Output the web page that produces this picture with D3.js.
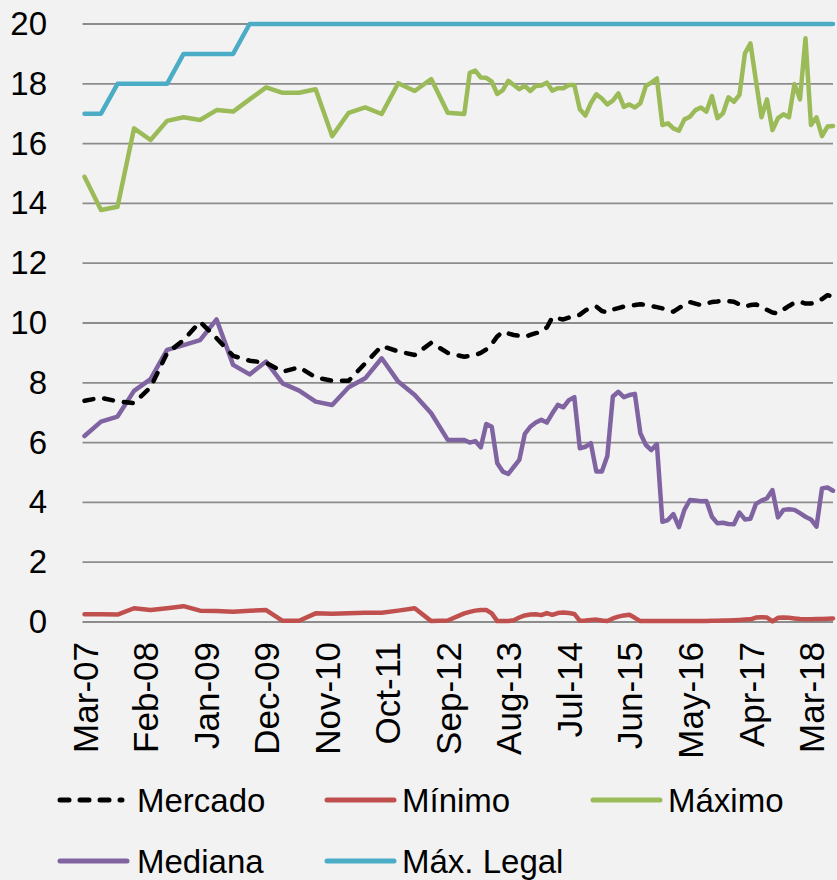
<!DOCTYPE html>
<head>
<meta charset="utf-8">
<style>
  body { margin: 0; background-color: #f2f2f2; }
  svg { background-color: #f2f2f2; font-family: 'Liberation Sans', Arial, sans-serif; }
  .tick-label { font-size: 33px; fill: #000; }
  .x-label { font-size: 35px; fill: #000; }
  .legend-label { font-size: 33px; fill: #000; }
</style>
</head>
<body>
<script src="https://d3js.org/d3.v7.min.js"></script>
<script>

// DATA: quarterly until Dec-12, then monthly
var dates = [
  "2007-03","2007-06","2007-09","2007-12","2008-03","2008-06","2008-09","2008-12",
  "2009-03","2009-06","2009-09","2009-12","2010-03","2010-06","2010-09","2010-12",
  "2011-03","2011-06","2011-09","2011-12","2012-03","2012-06","2012-09","2012-12",
  "2013-01","2013-02","2013-03","2013-04","2013-05","2013-06","2013-07","2013-08","2013-09","2013-10","2013-11","2013-12",
  "2014-01","2014-02","2014-03","2014-04","2014-05","2014-06","2014-07","2014-08","2014-09","2014-10","2014-11","2014-12",
  "2015-01","2015-02","2015-03","2015-04","2015-05","2015-06","2015-07","2015-08","2015-09","2015-10","2015-11","2015-12",
  "2016-01","2016-02","2016-03","2016-04","2016-05","2016-06","2016-07","2016-08","2016-09","2016-10","2016-11","2016-12",
  "2017-01","2017-02","2017-03","2017-04","2017-05","2017-06","2017-07","2017-08","2017-09","2017-10","2017-11","2017-12",
  "2018-01","2018-02","2018-03","2018-04","2018-05","2018-06","2018-07"
];

var mercado = [
  7.40, 7.50, 7.38, 7.32, 7.85, 8.99, 9.43, 10.04, 9.49, 8.90, 8.74, 8.67,
  8.37, 8.52, 8.18, 8.07, 8.07, 8.65, 9.23, 9.05, 8.93, 9.34, 9.00, 8.87,
  8.90, 8.93, 9.00, 9.12, 9.30, 9.55, 9.71, 9.65, 9.60, 9.57, 9.54, 9.60,
  9.66, 9.70, 9.85, 10.19, 10.15, 10.12, 10.18, 10.21, 10.28, 10.42, 10.52, 10.55,
  10.40, 10.35, 10.45, 10.50, 10.55, 10.58, 10.60, 10.63, 10.60, 10.57, 10.53, 10.49,
  10.44, 10.38, 10.50, 10.60, 10.70, 10.65, 10.60, 10.65, 10.70, 10.72, 10.75, 10.73,
  10.71, 10.62, 10.55, 10.60, 10.62, 10.55, 10.44, 10.35, 10.32, 10.45, 10.57, 10.68,
  10.71, 10.65, 10.65, 10.70, 10.80, 10.93, 10.88
];

var minimo = [
  0.26, 0.26, 0.25, 0.46, 0.40, 0.46, 0.53, 0.38, 0.37, 0.34, 0.38, 0.40,
  0.04, 0.04, 0.29, 0.28, 0.29, 0.31, 0.31, 0.38, 0.46, 0.03, 0.05, 0.29,
  0.34, 0.38, 0.40, 0.40, 0.29, 0.03, 0.03, 0.03, 0.06, 0.15, 0.22, 0.25,
  0.26, 0.23, 0.30, 0.24, 0.30, 0.32, 0.30, 0.27, 0.04, 0.05, 0.07, 0.08,
  0.05, 0.03, 0.12, 0.18, 0.22, 0.24, 0.14, 0.03, 0.03, 0.03, 0.03, 0.03,
  0.03, 0.03, 0.03, 0.03, 0.03, 0.03, 0.03, 0.03, 0.04, 0.04, 0.05, 0.05,
  0.06, 0.07, 0.08, 0.09, 0.15, 0.16, 0.15, 0.02, 0.14, 0.15, 0.14, 0.12,
  0.10, 0.09, 0.09, 0.10, 0.10, 0.11, 0.12
];

var maximo = [
  14.89, 13.78, 13.89, 16.51, 16.12, 16.76, 16.88, 16.79, 17.12, 17.07, 17.48, 17.88,
  17.70, 17.70, 17.82, 16.25, 17.03, 17.21, 16.99, 18.02, 17.76, 18.16, 17.03, 16.99,
  18.37, 18.44, 18.21, 18.20, 18.07, 17.66, 17.79, 18.10, 17.96, 17.82, 17.93, 17.76,
  17.93, 17.94, 18.04, 17.77, 17.85, 17.85, 17.96, 17.96, 17.15, 16.94, 17.35, 17.65,
  17.51, 17.31, 17.44, 17.68, 17.23, 17.31, 17.21, 17.35, 17.93, 18.04, 18.18, 16.62,
  16.68, 16.51, 16.43, 16.81, 16.90, 17.12, 17.21, 17.07, 17.59, 16.85, 17.01, 17.55,
  17.40, 17.63, 19.02, 19.35, 18.10, 16.88, 17.48, 16.45, 16.85, 16.98, 16.88, 17.99,
  17.48, 19.52, 16.62, 16.88, 16.25, 16.57, 16.59
];

var mediana = [
  6.22, 6.70, 6.87, 7.73, 8.12, 9.10, 9.26, 9.43, 10.12, 8.60, 8.28, 8.71,
  7.98, 7.74, 7.37, 7.26, 7.85, 8.15, 8.82, 8.04, 7.59, 6.98, 6.09, 6.09,
  6.00, 6.05, 5.84, 6.62, 6.53, 5.31, 5.03, 4.95, 5.19, 5.42, 6.29, 6.53,
  6.67, 6.76, 6.67, 6.98, 7.26, 7.18, 7.42, 7.52, 5.81, 5.86, 5.98, 5.03,
  5.03, 5.55, 7.54, 7.70, 7.52, 7.59, 7.63, 6.31, 5.92, 5.75, 5.95, 3.35,
  3.41, 3.61, 3.17, 3.75, 4.08, 4.06, 4.04, 4.05, 3.52, 3.30, 3.32, 3.28,
  3.27, 3.66, 3.43, 3.45, 3.95, 4.06, 4.14, 4.41, 3.50, 3.75, 3.77, 3.75,
  3.64, 3.52, 3.43, 3.19, 4.47, 4.50, 4.39
];

var maxLegal = [
  17, 17, 18, 18, 18, 18, 19, 19, 19, 19, 20, 20,
  20, 20, 20, 20, 20, 20, 20, 20, 20, 20, 20, 20,
  20, 20, 20, 20, 20, 20, 20, 20, 20, 20, 20, 20,
  20, 20, 20, 20, 20, 20, 20, 20, 20, 20, 20, 20,
  20, 20, 20, 20, 20, 20, 20, 20, 20, 20, 20, 20,
  20, 20, 20, 20, 20, 20, 20, 20, 20, 20, 20, 20,
  20, 20, 20, 20, 20, 20, 20, 20, 20, 20, 20, 20,
  20, 20, 20, 20, 20, 20, 20
];

var xTickLabels = ["Mar-07","Feb-08","Jan-09","Dec-09","Nov-10","Oct-11","Sep-12",
                   "Aug-13","Jul-14","Jun-15","May-16","Apr-17","Mar-18"];
var yTicks = [0, 2, 4, 6, 8, 10, 12, 14, 16, 18, 20];

// DIMENSIONS
var width = 837, height = 880;
var margin = {top: 24, right: 4, bottom: 258, left: 84.5};

var svg = d3.select('body').append('svg')
  .attr('width', width)
  .attr('height', height);

// SCALES (month index, like a date axis with monthly base unit)
var parseDate = d3.timeParse("%Y-%m");
var parseTick = d3.timeParse("%b-%y");
var start = parseDate(dates[0]);
var monthIndex = function(d) { return d3.timeMonth.count(start, d); };
var lastIndex = monthIndex(parseDate(dates[dates.length - 1]));

var xScale = d3.scaleLinear([0, lastIndex], [margin.left, width - margin.right]);
var yScale = d3.scaleLinear([0, 20], [height - margin.bottom, margin.top]);

// GRIDLINES
svg.append('g')
  .selectAll('line')
  .data(yTicks)
  .join('line')
  .attr('x1', margin.left - 2)
  .attr('x2', width - margin.right)
  .attr('y1', d => yScale(d))
  .attr('y2', d => yScale(d))
  .attr('stroke', '#8c8c8c')
  .attr('stroke-width', 1.8);

// Y AXIS LABELS
var yAxis = d3.axisLeft(yScale).tickValues(yTicks).tickSize(0).tickPadding(0);
var yAxisG = svg.append('g')
  .attr('transform', 'translate(47,0)')
  .call(yAxis);
yAxisG.select('.domain').remove();
yAxisG.selectAll('text')
  .attr('class', 'tick-label')
  .attr('font-family', null)
  .attr('font-size', null);

// X AXIS LABELS (rotated)
var xAxis = d3.axisBottom(xScale)
  .tickValues(xTickLabels.map(t => monthIndex(parseTick(t))))
  .tickFormat((d, i) => xTickLabels[i])
  .tickSize(0);
var xAxisG = svg.append('g')
  .attr('transform', `translate(0,${height - margin.bottom + 20})`)
  .call(xAxis);
xAxisG.select('.domain').remove();
xAxisG.selectAll('text')
  .attr('class', 'x-label')
  .attr('font-family', null)
  .attr('font-size', null)
  .attr('text-anchor', 'end')
  .attr('transform', 'rotate(-90)')
  .attr('x', 0)
  .attr('y', 0)
  .attr('dy', '0.36em');

// LINES
var rows = dates.map((d, i) => ({
  m: monthIndex(parseDate(d)),
  mercado: mercado[i], minimo: minimo[i], maximo: maximo[i],
  mediana: mediana[i], maxLegal: maxLegal[i]
}));

var series = [
  {key: 'maxLegal', color: '#4bacc6', dash: null},
  {key: 'maximo', color: '#9bbb59', dash: null},
  {key: 'minimo', color: '#c0504d', dash: null},
  {key: 'mediana', color: '#8064a2', dash: null},
  {key: 'mercado', color: '#000000', dash: '9,11'}
];

series.forEach(function(s) {
  var line = d3.line()
    .x(d => xScale(d.m))
    .y(d => yScale(d[s.key]));
  svg.append('path')
    .datum(rows)
    .attr('d', line)
    .attr('fill', 'none')
    .attr('stroke', s.color)
    .attr('stroke-width', 4.5)
    .attr('stroke-linejoin', 'round')
    .attr('stroke-linecap', 'round')
    .attr('stroke-dasharray', s.dash);
});

// LEGEND
var legend = [
  {label: 'Mercado', color: '#000000', dash: '9,11', x1: 60, x2: 122, tx: 137, y: 800},
  {label: 'Mínimo', color: '#c0504d', dash: null, x1: 327, x2: 394, tx: 402, y: 800},
  {label: 'Máximo', color: '#9bbb59', dash: null, x1: 593, x2: 660, tx: 668, y: 800},
  {label: 'Mediana', color: '#8064a2', dash: null, x1: 60, x2: 127, tx: 137, y: 861},
  {label: 'Máx. Legal', color: '#4bacc6', dash: null, x1: 327, x2: 394, tx: 402, y: 861}
];

var legendG = svg.append('g').selectAll('g')
  .data(legend)
  .join('g');

legendG.append('line')
  .attr('x1', d => d.x1)
  .attr('x2', d => d.x2)
  .attr('y1', d => d.y)
  .attr('y2', d => d.y)
  .attr('stroke', d => d.color)
  .attr('stroke-width', 5)
  .attr('stroke-linecap', 'round')
  .attr('stroke-dasharray', d => d.dash);

legendG.append('text')
  .attr('class', 'legend-label')
  .attr('x', d => d.tx)
  .attr('y', d => d.y)
  .attr('dy', '0.36em')
  .text(d => d.label);

</script>
</body>
